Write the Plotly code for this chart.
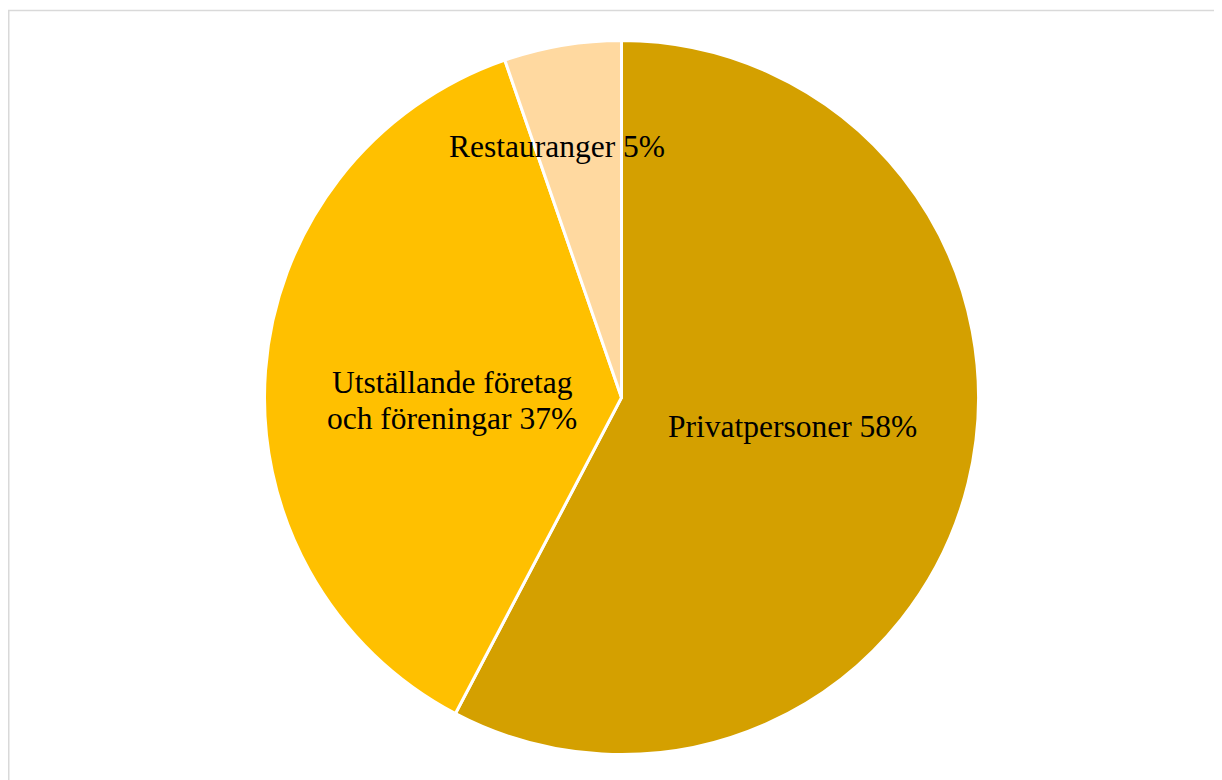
import plotly.graph_objects as go

# Data
categories = ["Privatpersoner", "Utställande företag<br>och föreningar", "Restauranger"]
values = [57.7, 37.0, 5.3]
colors = ["#D4A000", "#FFC000", "#FFD9A0"]

W, H = 1222, 780
OFF = 8  # page body margin offset
cx, cy, r = 621.5 - OFF, 397.5 - OFF, 357

fig = go.Figure()
fig.add_trace(go.Pie(
    labels=categories,
    values=values,
    sort=False,
    direction="clockwise",
    rotation=0,
    marker=dict(colors=colors, line=dict(color="white", width=3)),
    textinfo="none",
    hoverinfo="label+percent",
    showlegend=False,
    domain=dict(x=[(cx - r) / W, (cx + r) / W], y=[1 - (cy + r) / H, 1 - (cy - r) / H]),
))

# label positions: center x, first-line center y (pixels in reference)
label_pos = [(792, 426), (452, 382), (557, 146)]
LINE_GAP = 36
FS = 31.5
for cat, val, (px, py) in zip(categories, values, label_pos):
    lines = f"{cat} {round(val)}%".split("<br>")
    for i, line in enumerate(lines):
        fig.add_annotation(
            x=(px - OFF) / W, y=1 - (py - OFF + i * LINE_GAP) / H,
            xref="paper", yref="paper",
            text=line, showarrow=False,
            font=dict(family="Liberation Serif", size=FS, color="black"),
            xanchor="center", yanchor="middle", align="center",
        )

# outer frame
fig.add_shape(type="rect", xref="paper", yref="paper",
              x0=(8 - OFF + 0.75) / W, x1=1.02, y0=-0.02, y1=1 - (10.5 - OFF) / H,
              line=dict(color="#D9D9D9", width=1.5), fillcolor="rgba(0,0,0,0)")

fig.update_layout(
    width=W, height=H,
    margin=dict(l=0, r=0, t=0, b=0),
    paper_bgcolor="white", plot_bgcolor="white",
)
fig.write_html("out.html")
